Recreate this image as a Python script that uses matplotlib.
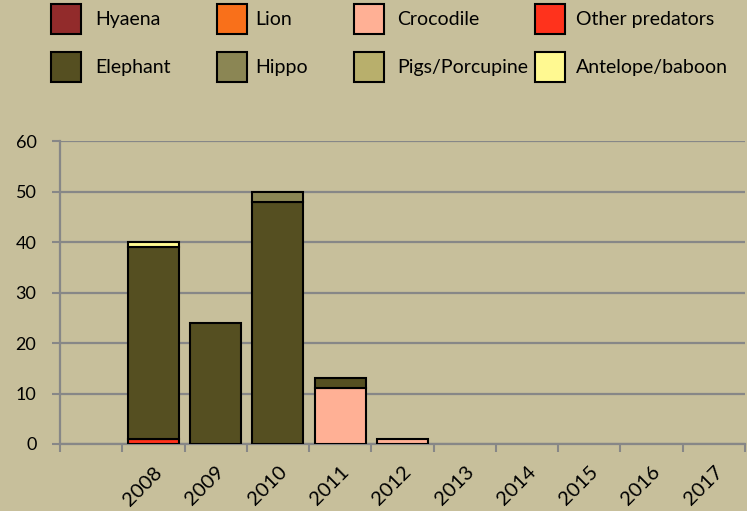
import numpy as np
import matplotlib.pyplot as plt
from matplotlib.patches import Rectangle

plt.rcParams['font.family'] = ['Lato', 'DejaVu Sans']

# categories (first slot has no label)
years = ["", "2008", "2009", "2010", "2011", "2012", "2013", "2014", "2015", "2016", "2017"]

species = ["Hyaena", "Lion", "Crocodile", "Other predators",
           "Elephant", "Hippo", "Pigs/Porcupine", "Antelope/baboon"]
colors = ["#922B2B", "#F9701A", "#FFB095", "#FF321C",
          "#554F21", "#8B8654", "#B8AF6C", "#FFF991"]

hyaena = [0, 0, 0, 0, 0, 0, 0, 0, 0, 0, 0]
lion = [0, 0, 0, 0, 0, 0, 0, 0, 0, 0, 0]
crocodile = [0, 0, 0, 0, 11, 1, 0, 0, 0, 0, 0]
other_pred = [0, 1, 0, 0, 0, 0, 0, 0, 0, 0, 0]
elephant = [0, 38, 24, 48, 2, 0, 0, 0, 0, 0, 0]
hippo = [0, 0, 0, 2, 0, 0, 0, 0, 0, 0, 0]
pigs = [0, 0, 0, 0, 0, 0, 0, 0, 0, 0, 0]
antelope = [0, 1, 0, 0, 0, 0, 0, 0, 0, 0, 0]

series = [hyaena, lion, crocodile, other_pred, elephant, hippo, pigs, antelope]

bg = "#C7BF9B"
grid = "#878787"

fig = plt.figure(figsize=(7.47, 5.11), dpi=100, facecolor=bg)
ax = fig.add_axes([60/747, 1-444/511, 685/747, 303/511])
ax.set_facecolor(bg)

x = np.arange(len(years))
bottom = np.zeros(len(years))
for vals, col in zip(series, colors):
    vals = np.array(vals, dtype=float)
    mask = vals > 0
    ax.bar(x[mask], vals[mask], bottom=bottom[mask], width=0.82,
           color=col, edgecolor="black", linewidth=1.5, zorder=3)
    bottom += vals

ax.set_xlim(-0.5, len(years) - 0.5)
ax.set_ylim(0, 60)
ax.set_yticks(range(0, 61, 10))
ax.yaxis.grid(True, color=grid, linewidth=1.6, zorder=0)
ax.set_axisbelow(True)

# category boundaries carry the tick marks
ax.set_xticks(np.arange(len(years) + 1) - 0.5, minor=True)
ax.set_xticks(x)
ax.set_xticklabels(years, rotation=45, ha="right", rotation_mode="anchor", fontsize=14.5)
ax.tick_params(axis="x", which="major", length=0, pad=14)
ax.tick_params(axis="x", which="minor", length=6, color=grid, width=1.5)
ax.tick_params(axis="y", length=6, color=grid, width=1.5, labelsize=13, pad=11)

for s in ["top", "right"]:
    ax.spines[s].set_visible(False)
for s in ["left", "bottom"]:
    ax.spines[s].set_color(grid)
    ax.spines[s].set_linewidth(1.6)

# legend, 2 rows x 4 columns
patch_x = [51, 217, 354, 535]
text_x = [95, 255, 397, 576]
row_y = [19, 67]
W, H = 747, 511
for i, (name, col) in enumerate(zip(species, colors)):
    r, c = divmod(i, 4)
    px, py = patch_x[c], row_y[r]
    fig.add_artist(Rectangle(((px) / W, 1 - (py + 15) / H), 30 / W, 30 / H,
                             facecolor=col, edgecolor="black", linewidth=1.5,
                             transform=fig.transFigure))
    fig.text(text_x[c] / W, 1 - py / H, name, fontsize=14, va="center", ha="left")

fig.savefig("out.png", dpi=100, facecolor=bg)
